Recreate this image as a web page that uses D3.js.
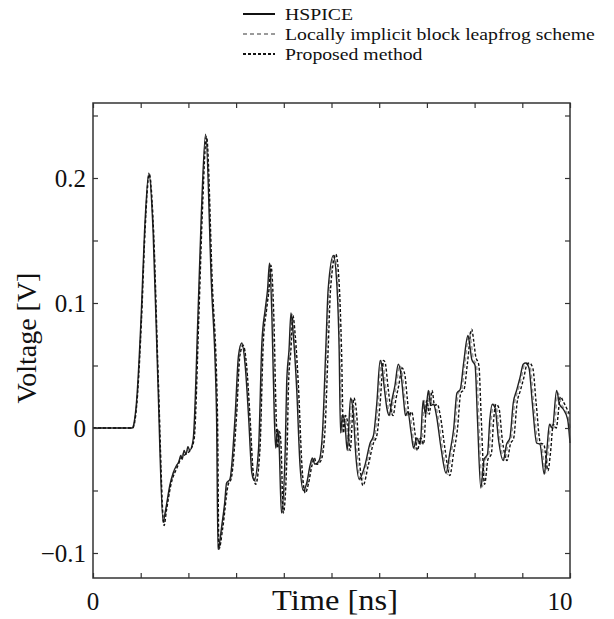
<!DOCTYPE html>
<html>
<head>
<meta charset="utf-8">
<script src="https://cdn.jsdelivr.net/npm/d3@7"></script>
<style>
  html, body { margin: 0; padding: 0; background: #fff; }
  svg text { font-family: "Liberation Serif", "Times New Roman", serif; fill: #111; }
</style>
</head>
<body>
<svg id="chart" width="614" height="619"></svg>
<script>
// series labels
const seriesNames = ["HSPICE", "Locally implicit block leapfrog scheme", "Proposed method"];

// [time ns, voltage V]
const hspice = [
  [0,0],[0.82,0],[0.86,0.004],[0.91,0.02],[1.01,0.09],[1.08,0.157],[1.17,0.204],[1.26,0.157],
  [1.36,0.037],[1.47,-0.075],[1.52,-0.066],[1.61,-0.046],[1.68,-0.036],[1.75,-0.030],[1.80,-0.027],
  [1.84,-0.022],[1.87,-0.025],[1.91,-0.018],[1.95,-0.021],[1.99,-0.015],[2.03,-0.018],[2.10,-0.009],
  [2.20,0.09],[2.27,0.17],[2.36,0.235],[2.48,0.117],[2.59,0.01],[2.62,-0.097],[2.70,-0.078],
  [2.76,-0.060],[2.80,-0.044],[2.87,-0.041],[2.98,0.01],[3.05,0.058],[3.12,0.068],[3.19,0.05],
  [3.26,0.01],[3.33,-0.036],[3.38,-0.042],[3.47,-0.017],[3.54,0.068],[3.61,0.095],[3.66,0.111],
  [3.70,0.132],[3.75,0.09],[3.80,0.01],[3.83,-0.016],[3.87,-0.001],[3.90,-0.012],[3.95,-0.068],
  [4.03,-0.017],[4.06,0.036],[4.11,0.063],[4.15,0.092],[4.20,0.074],[4.27,0.031],[4.34,-0.030],
  [4.41,-0.050],[4.48,-0.044],[4.55,-0.030],[4.60,-0.024],[4.65,-0.029],[4.74,-0.026],[4.81,-0.004],
  [4.88,0.063],[4.93,0.111],[5.04,0.138],[5.11,0.116],[5.16,0.063],[5.19,-0.004],[5.23,0.010],
  [5.28,0.004],[5.33,-0.018],[5.40,0.024],[5.46,0.010],[5.51,-0.022],[5.58,-0.041],[5.70,-0.030],
  [5.81,-0.012],[5.88,-0.006],[5.95,0.020],[6.02,0.054],[6.05,0.051],[6.11,0.031],[6.16,0.016],
  [6.21,0.010],[6.27,0.023],[6.33,0.034],[6.40,0.051],[6.46,0.042],[6.51,0.023],[6.55,0.010],
  [6.60,0.013],[6.67,-0.004],[6.72,-0.016],[6.79,-0.008],[6.86,-0.013],[6.92,0.022],[6.97,0.011],
  [7.03,0.030],[7.08,0.018],[7.14,0.019],[7.20,0.010],[7.30,-0.017],[7.40,-0.036],[7.48,-0.020],
  [7.56,-0.001],[7.63,0.028],[7.70,0.031],[7.77,0.052],[7.86,0.074],[7.90,0.066],[7.94,0.055],
  [8.01,0.050],[8.06,0.007],[8.13,-0.048],[8.20,-0.025],[8.27,-0.021],[8.32,0.007],[8.37,0.019],
  [8.43,0.016],[8.50,-0.009],[8.60,-0.026],[8.67,-0.013],[8.74,-0.008],[8.81,0.020],[8.88,0.030],
  [8.95,0.040],[9.02,0.051],[9.07,0.052],[9.14,0.048],[9.21,0.020],[9.30,-0.012],[9.37,-0.013],
  [9.46,-0.037],[9.51,-0.020],[9.57,0.003],[9.63,0.000],[9.72,0.030],[9.78,0.019],[9.86,0.015],
  [9.95,0.007],[10.0,-0.012]
];

const leapfrog = [
  [0,0],[0.83,0],[0.87,0.004],[0.92,0.02],[1.02,0.09],[1.09,0.157],[1.18,0.203],[1.27,0.157],
  [1.37,0.037],[1.48,-0.076],[1.53,-0.066],[1.62,-0.046],[1.76,-0.030],[1.85,-0.023],[1.92,-0.019],
  [2.04,-0.017],[2.11,-0.009],[2.21,0.09],[2.28,0.17],[2.37,0.234],[2.49,0.117],[2.60,0.01],
  [2.63,-0.097],[2.71,-0.079],[2.82,-0.045],[2.89,-0.040],[3.00,0.01],[3.07,0.058],[3.14,0.067],
  [3.21,0.05],[3.28,0.01],[3.35,-0.036],[3.40,-0.043],[3.49,-0.017],[3.56,0.068],[3.63,0.095],
  [3.68,0.111],[3.72,0.131],[3.77,0.09],[3.82,0.01],[3.85,-0.016],[3.89,-0.002],[3.92,-0.012],
  [3.97,-0.068],[4.05,-0.017],[4.08,0.036],[4.13,0.063],[4.17,0.091],[4.22,0.074],[4.29,0.031],
  [4.36,-0.030],[4.43,-0.051],[4.50,-0.044],[4.57,-0.030],[4.62,-0.024],[4.67,-0.029],[4.76,-0.026],
  [4.83,-0.004],[4.90,0.063],[4.95,0.111],[5.06,0.138],[5.13,0.116],[5.18,0.063],[5.22,-0.004],
  [5.26,0.010],[5.31,0.004],[5.36,-0.018],[5.43,0.024],[5.49,0.010],[5.54,-0.022],[5.61,-0.043],
  [5.73,-0.030],[5.84,-0.012],[5.91,-0.006],[5.98,0.020],[6.05,0.054],[6.08,0.052],[6.14,0.031],
  [6.19,0.016],[6.24,0.010],[6.30,0.023],[6.36,0.034],[6.43,0.050],[6.49,0.042],[6.54,0.023],
  [6.58,0.010],[6.63,0.013],[6.70,-0.004],[6.75,-0.017],[6.82,-0.008],[6.89,-0.013],[6.95,0.022],
  [7.00,0.011],[7.06,0.030],[7.11,0.018],[7.17,0.019],[7.23,0.010],[7.33,-0.017],[7.43,-0.037],
  [7.51,-0.020],[7.59,-0.001],[7.66,0.028],[7.73,0.031],[7.80,0.052],[7.89,0.076],[7.93,0.068],
  [7.97,0.056],[8.04,0.050],[8.09,0.007],[8.16,-0.047],[8.23,-0.025],[8.30,-0.021],[8.35,0.007],
  [8.40,0.019],[8.46,0.016],[8.53,-0.009],[8.63,-0.026],[8.70,-0.013],[8.77,-0.008],[8.84,0.020],
  [8.91,0.030],[8.98,0.040],[9.05,0.051],[9.10,0.052],[9.17,0.048],[9.24,0.020],[9.33,-0.012],
  [9.40,-0.013],[9.49,-0.036],[9.54,-0.020],[9.60,0.003],[9.66,0.000],[9.75,0.028],[9.81,0.020],
  [9.89,0.015],[9.97,0.008],[10.0,0.0]
];

const proposed = [
  [0,0],[0.83,0],[0.87,0.004],[0.92,0.02],[1.02,0.09],[1.09,0.157],[1.18,0.203],[1.27,0.157],
  [1.37,0.037],[1.49,-0.078],[1.54,-0.066],[1.63,-0.046],[1.77,-0.031],[1.85,-0.024],[1.91,-0.022],
  [2.05,-0.017],[2.12,-0.009],[2.22,0.09],[2.29,0.17],[2.38,0.233],[2.50,0.117],[2.61,0.01],
  [2.64,-0.097],[2.72,-0.080],[2.83,-0.046],[2.90,-0.040],[3.01,0.01],[3.08,0.058],[3.15,0.066],
  [3.22,0.05],[3.29,0.01],[3.36,-0.036],[3.41,-0.045],[3.50,-0.017],[3.57,0.068],[3.64,0.095],
  [3.69,0.111],[3.73,0.130],[3.79,0.09],[3.84,0.01],[3.87,-0.016],[3.91,-0.003],[3.94,-0.012],
  [3.99,-0.068],[4.07,-0.017],[4.10,0.036],[4.15,0.063],[4.19,0.090],[4.24,0.074],[4.31,0.031],
  [4.38,-0.030],[4.45,-0.052],[4.52,-0.044],[4.59,-0.030],[4.64,-0.024],[4.69,-0.029],[4.78,-0.026],
  [4.86,-0.004],[4.93,0.063],[4.98,0.111],[5.09,0.139],[5.16,0.116],[5.21,0.063],[5.25,-0.004],
  [5.29,0.010],[5.34,0.004],[5.39,-0.018],[5.47,0.024],[5.53,0.010],[5.58,-0.022],[5.66,-0.046],
  [5.77,-0.030],[5.88,-0.012],[5.95,-0.006],[6.02,0.020],[6.09,0.054],[6.12,0.053],[6.19,0.031],
  [6.24,0.016],[6.29,0.010],[6.35,0.023],[6.41,0.034],[6.48,0.048],[6.54,0.042],[6.59,0.023],
  [6.63,0.010],[6.68,0.013],[6.75,-0.004],[6.80,-0.018],[6.87,-0.008],[6.93,-0.013],[7.00,0.022],
  [7.05,0.011],[7.11,0.030],[7.16,0.018],[7.22,0.019],[7.28,0.010],[7.38,-0.017],[7.48,-0.038],
  [7.56,-0.020],[7.64,-0.001],[7.71,0.028],[7.78,0.031],[7.85,0.052],[7.94,0.079],[7.98,0.070],
  [8.02,0.058],[8.09,0.050],[8.14,0.007],[8.21,-0.045],[8.28,-0.025],[8.35,-0.021],[8.40,0.007],
  [8.45,0.019],[8.51,0.016],[8.58,-0.009],[8.68,-0.026],[8.75,-0.013],[8.82,-0.008],[8.89,0.020],
  [8.96,0.030],[9.03,0.040],[9.10,0.051],[9.15,0.052],[9.22,0.048],[9.29,0.020],[9.38,-0.012],
  [9.45,-0.013],[9.54,-0.034],[9.59,-0.020],[9.65,0.003],[9.71,0.000],[9.80,0.025],[9.86,0.021],
  [9.94,0.015],[10.0,0.01]
];

// axis ticks
const xTicks = [0,1,2,3,4,5,6,7,8,9,10];
const xTickLabels = {0: "0", 10: "10"};
const yTicks = [-0.1,-0.05,0,0.05,0.1,0.15,0.2,0.25];
const yTickLabels = {"-0.1": "\u22120.1", "0": "0", "0.1": "0.1", "0.2": "0.2"};

const margin = {top: 103, right: 44, bottom: 41, left: 93},
    width = 614 - margin.left - margin.right,
    height = 619 - margin.top - margin.bottom;

const svg = d3.select("#chart");
const g = svg.append("g")
    .attr("transform", `translate(${margin.left},${margin.top})`);

const x = d3.scaleLinear().domain([0, 10]).range([0, width]);
const y = d3.scaleLinear().domain([-0.12, 0.26]).range([height, 0]);

const line = d3.line()
    .curve(d3.curveMonotoneX)
    .x(d => x(d[0]))
    .y(d => y(d[1]));

// series
g.append("path")
    .datum(leapfrog)
    .attr("fill", "none")
    .attr("stroke", "#9a9a9a")
    .attr("stroke-width", 1.4)
    .attr("stroke-dasharray", "4,3")
    .attr("d", line);

g.append("path")
    .datum(hspice)
    .attr("fill", "none")
    .attr("stroke", "#222")
    .attr("stroke-width", 1.4)
    .attr("d", line);

g.append("path")
    .datum(proposed)
    .attr("fill", "none")
    .attr("stroke", "#111")
    .attr("stroke-width", 1.4)
    .attr("stroke-dasharray", "3,2")
    .attr("d", line);

// inward ticks on all four sides
const tickLen = 5;
g.append("g")
    .attr("transform", `translate(0,${height})`)
    .call(d3.axisBottom(x).tickValues(xTicks).tickSize(-tickLen).tickFormat(() => ""));
g.append("g")
    .call(d3.axisTop(x).tickValues(xTicks).tickSize(-tickLen).tickFormat(() => ""));
g.append("g")
    .call(d3.axisLeft(y).tickValues(yTicks).tickSize(-tickLen).tickFormat(() => ""));
g.append("g")
    .attr("transform", `translate(${width},0)`)
    .call(d3.axisRight(y).tickValues(yTicks).tickSize(-tickLen).tickFormat(() => ""));

g.selectAll(".domain").remove();
g.selectAll(".tick line").attr("stroke", "#333").attr("stroke-width", 1.2);

g.append("rect")
    .attr("width", width)
    .attr("height", height)
    .attr("fill", "none")
    .attr("stroke", "#333")
    .attr("stroke-width", 1.5);

// tick labels
g.selectAll(".ylab")
    .data(yTicks.filter(v => yTickLabels[String(v)] !== undefined))
    .enter().append("text")
    .attr("class", "ylab")
    .attr("x", -7)
    .attr("y", d => y(d))
    .attr("text-anchor", "end")
    .attr("dy", "0.35em")
    .style("font-size", "25px")
    .text(d => yTickLabels[String(d)]);

g.selectAll(".xlab")
    .data(xTicks.filter(v => xTickLabels[v] !== undefined))
    .enter().append("text")
    .attr("class", "xlab")
    .attr("x", d => x(d) - (d === 10 ? 10 : 0))
    .attr("y", height + 32)
    .attr("text-anchor", "middle")
    .style("font-size", "25px")
    .text(d => xTickLabels[d]);

// axis titles
g.append("text")
    .attr("transform", `translate(242,${height + 32}) scale(1.12,1)`)
    .attr("text-anchor", "middle")
    .style("font-size", "29px")
    .text("Time [ns]");

svg.append("text")
    .attr("transform", "translate(36,338) rotate(-90)")
    .attr("text-anchor", "middle")
    .style("font-size", "28px")
    .text("Voltage [V]");

// legend
const legendStyles = [
  {stroke: "#111", dash: null},
  {stroke: "#9a9a9a", dash: "4,3"},
  {stroke: "#111", dash: "3,2"}
];
const legend = svg.append("g").attr("transform", "translate(243,14)");
const rows = legend.selectAll("g")
    .data(seriesNames)
    .enter().append("g")
    .attr("transform", (d, i) => `translate(0,${i * 20})`);
rows.append("line")
    .attr("x1", 0).attr("x2", 32)
    .attr("stroke", (d, i) => legendStyles[i].stroke)
    .attr("stroke-width", 2)
    .attr("stroke-dasharray", (d, i) => legendStyles[i].dash);
rows.append("text")
    .attr("transform", "translate(42,0) scale(1.16,1)")
    .attr("dy", "0.35em")
    .style("font-size", "17px")
    .text(d => d);
</script>
</body>
</html>
